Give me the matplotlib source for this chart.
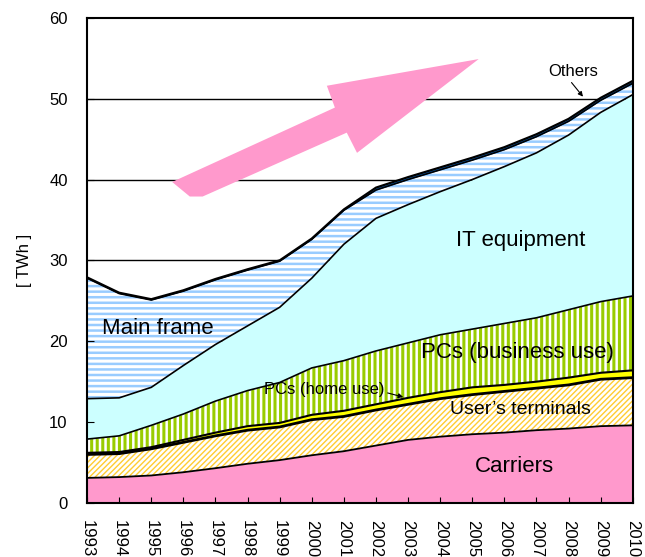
import numpy as np
import matplotlib.pyplot as plt
from matplotlib.patches import Polygon

plt.rcParams['font.family'] = ['Liberation Sans', 'DejaVu Sans']

# Дані: споживання електроенергії ІТ-обладнанням, TWh (значення кожного шару)
years = list(range(1993, 2011))
carriers = [3.1, 3.2, 3.4, 3.8, 4.3, 4.85, 5.3, 5.9, 6.4, 7.1, 7.8, 8.2, 8.5, 8.7, 9.0, 9.2, 9.5, 9.6]
terminals = [2.9, 2.9, 3.3, 3.7, 4.0, 4.15, 4.1, 4.4, 4.3, 4.4, 4.4, 4.7, 4.9, 5.1, 5.2, 5.4, 5.8, 5.9]
pcs_home = [0.2, 0.2, 0.2, 0.3, 0.4, 0.5, 0.5, 0.6, 0.7, 0.7, 0.8, 0.8, 0.9, 0.8, 0.8, 0.9, 0.8, 0.9]
pcs_business = [1.7, 2.0, 2.7, 3.2, 3.9, 4.4, 5.0, 5.8, 6.2, 6.6, 6.8, 7.1, 7.2, 7.6, 7.9, 8.4, 8.8, 9.2]
it_equipment = [5.0, 4.7, 4.7, 6.0, 7.0, 8.0, 9.3, 11.1, 14.4, 16.4, 17.1, 17.7, 18.5, 19.4, 20.4, 21.6, 23.4, 24.9]
main_frame = [14.9, 12.9, 10.8, 9.2, 8.0, 6.9, 5.7, 4.8, 4.2, 3.5, 3.1, 2.7, 2.4, 2.1, 2.0, 1.7, 1.5, 1.4]
others = [0.1, 0.1, 0.1, 0.1, 0.1, 0.1, 0.1, 0.1, 0.1, 0.3, 0.3, 0.3, 0.3, 0.3, 0.3, 0.3, 0.3, 0.3]

layers = [carriers, terminals, pcs_home, pcs_business, it_equipment, main_frame, others]
# face, hatch colour, hatch, hatch width, top line width
styles = [
    ('#FF99CC', '#FF99CC', None, 1.0, 1.3),
    ('white', '#FFCC33', '//////', 1.0, 2.0),
    ('#FFFF00', '#FFFF00', None, 1.0, 1.5),
    ('white', '#99CC00', '|||', 2.2, 1.2),
    ('#CCFFFF', '#CCFFFF', None, 1.0, 1.2),
    ('white', '#99CCFF', '---', 1.8, 1.2),
    ('#0066CC', '#0066CC', None, 1.0, 1.6),
]

x = np.array(years)
tops = np.cumsum(np.array(layers), axis=0)
bottoms = np.vstack([np.zeros(len(years)), tops[:-1]])

fig, ax = plt.subplots(figsize=(6.45, 5.57), dpi=100)
fig.subplots_adjust(left=0.135, right=0.981, bottom=0.097, top=0.968)

# горизонтальні лінії сітки за заливкою
for g in range(10, 60, 10):
    ax.axhline(g, color='black', lw=1.0, zorder=0)

for i, (face, hcol, hatch, hlw, lw) in enumerate(styles):
    plt.rcParams['hatch.linewidth'] = hlw
    ax.fill_between(x, bottoms[i], tops[i], facecolor=face, edgecolor=hcol,
                    hatch=hatch, linewidth=0, zorder=1)
    ax.plot(x, tops[i], color='black', lw=lw, zorder=3)

# рожева стрілка тренду
arrow = [(1995.65, 39.7), (2000.72, 48.9), (2000.47, 51.6), (2005.2, 54.9),
         (2001.41, 43.3), (2001.09, 45.8), (1996.6, 37.9), (1996.2, 37.9)]
ax.add_patch(Polygon(arrow, closed=True, facecolor='#FF99CC', edgecolor='none', zorder=4))

# підписи шарів
ax.text(1995.2, 21.6, 'Main frame', fontsize=16, ha='center', va='center', zorder=5)
ax.text(2006.5, 32.5, 'IT equipment', fontsize=16, ha='center', va='center', zorder=5)
ax.text(2006.4, 18.6, 'PCs (business use)', fontsize=16, ha='center', va='center', zorder=5)
ax.text(2006.5, 11.5, 'User\u2019s terminals', fontsize=14, ha='center', va='center', zorder=5)
ax.text(2006.3, 4.45, 'Carriers', fontsize=16, ha='center', va='center', zorder=5)
ax.annotate('PCs (home use)', xy=(2002.85, 13.1), xytext=(2000.4, 14.0),
            fontsize=12, ha='center', va='center', zorder=5,
            arrowprops=dict(arrowstyle='-|>', color='black', lw=0.8, mutation_scale=7,
                            shrinkA=0, shrinkB=0, relpos=(0.97, 0.4)))
ax.annotate('Others', xy=(2008.45, 50.25), xytext=(2008.15, 53.4),
            fontsize=12, ha='center', va='center', zorder=5,
            arrowprops=dict(arrowstyle='-|>', color='black', lw=0.8, mutation_scale=7,
                            shrinkA=1, shrinkB=0, relpos=(0.4, 0.0)))

ax.set_xlim(1993, 2010)
ax.set_ylim(0, 60)
ax.set_xticks(years)
ax.set_xticklabels([str(y) for y in years], rotation=270, fontsize=12)
ax.set_yticks(range(0, 61, 10))
ax.tick_params(axis='y', direction='in', length=5, labelsize=12, pad=14)
ax.tick_params(axis='x', direction='in', length=4, pad=12)
ax.set_ylabel('[ TWh ]', fontsize=12, labelpad=12)
for s in ax.spines.values():
    s.set_linewidth(1.5)
    s.set_zorder(6)

fig.savefig('out.png', dpi=100)
